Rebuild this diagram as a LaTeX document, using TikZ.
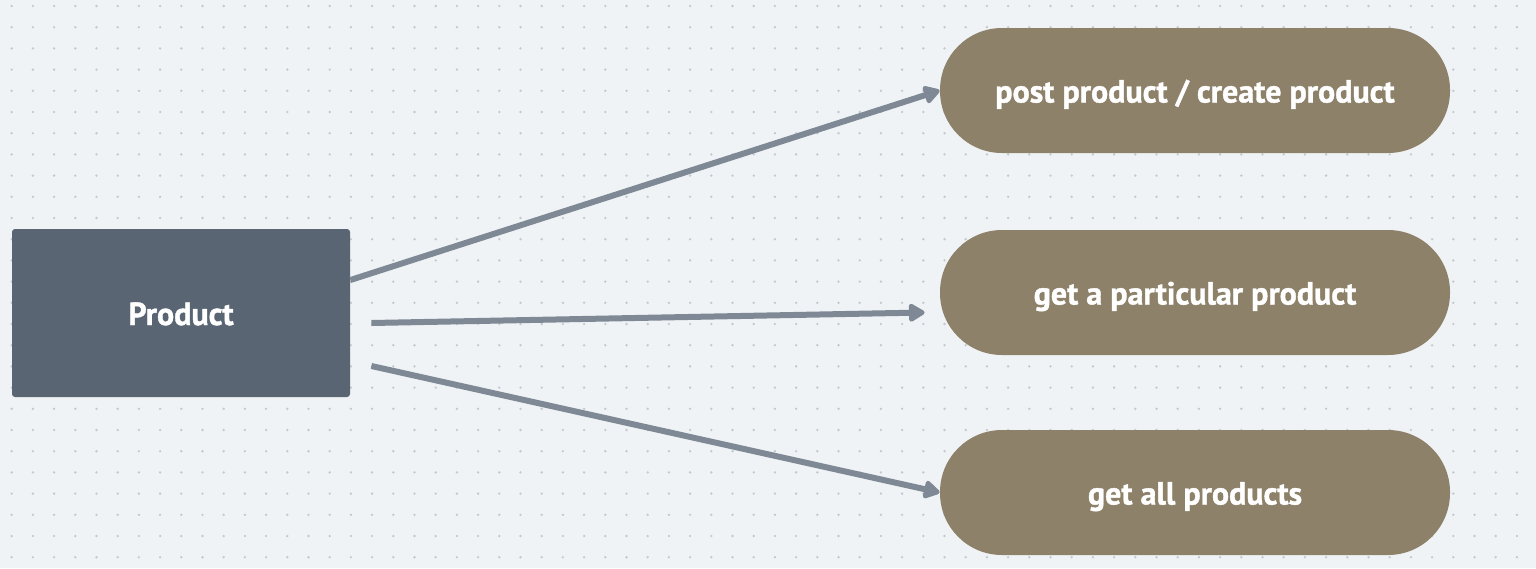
\documentclass[tikz,border=0pt]{standalone}
\usepackage{fontspec}
\setmainfont{PT Sans}[FakeBold=1.2]
\usetikzlibrary{arrows.meta}
\definecolor{paper}{HTML}{F0F3F6}
\definecolor{griddot}{HTML}{C3C8CE}
\definecolor{slate}{HTML}{596573}
\definecolor{khaki}{HTML}{8D8169}
\definecolor{wire}{HTML}{7E8995}
\begin{document}
\begin{tikzpicture}[x=0.5pt, y=-0.5pt,
    main/.style = {draw=none, fill=slate, rounded corners=1.5pt, text=white, minimum width=169pt, minimum height=84pt, text height=15pt, text depth=3pt, font=\fontsize{16}{19}\selectfont\bfseries},
    pill/.style = {draw=none, fill=khaki, rounded corners=31pt, text=white, minimum width=255pt, minimum height=62.5pt, text height=15pt, text depth=3pt, font=\fontsize{16}{19}\selectfont\bfseries},
    arrow/.style = {draw=wire, line width=3pt, -{Triangle[length=9pt, width=10pt, round]}}]
				\fill[paper] (0,0) rectangle (1536,568);
				\useasboundingbox (0,0) rectangle (1536,568);
				\foreach \i in {0,...,72}
					\foreach \j in {0,...,26}
						\fill[griddot] (11.7+21.2*\i, 6+21.2*\j) circle (0.65pt);
				\node[main] (prod) at (181,313) {Product};
				\node[pill] (post) at (1195,90.5) {post product / create product};
				\node[pill] (get) at (1195,292.5) {get a particular product};
				\node[pill] (all) at (1195,492.5) {get all products};
				\draw[arrow] ([shift={(0,-33)}]prod.east) -- (post.west);
				\draw[arrow] ([shift={(21,10)}]prod.east) -- ([shift={(-15,20)}]get.west);
				\draw[arrow] ([shift={(21,53)}]prod.east) -- (all.west);
			\end{tikzpicture}
\end{document}
